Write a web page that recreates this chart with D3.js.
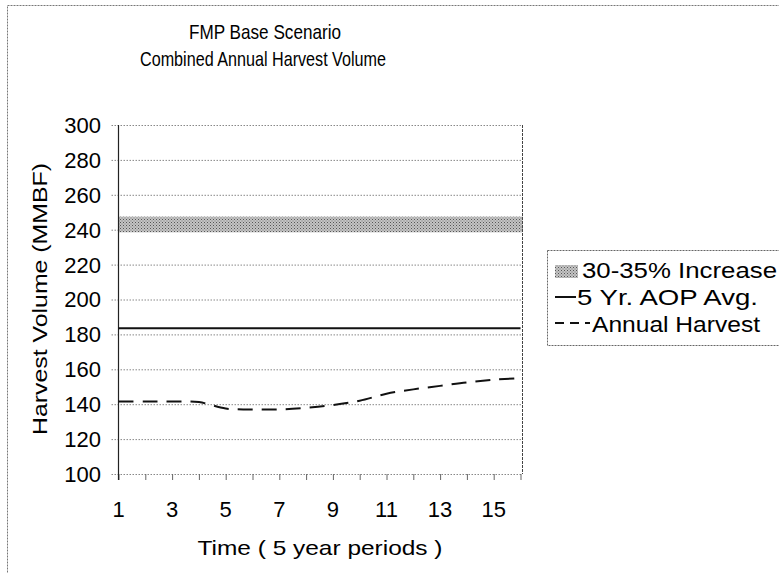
<!DOCTYPE html>
<html><head><meta charset="utf-8">
<script src="https://cdn.jsdelivr.net/npm/d3@7"></script>
<style>
html,body{margin:0;padding:0;background:#fff;}
svg{display:block;font-family:Arial,"Liberation Sans",Helvetica,sans-serif;}
</style></head>
<body><svg id="c" width="779" height="573"></svg>
<script>
// ---- data ----
const periods = [1,2,3,4,5,6,7,8,9,10,11,12,13,14,15,16];
const annualHarvest = [141.5,141.5,141.5,141.2,137.5,137,137,138,139.5,142,146,148.5,150.5,152.5,154,155];
const aopAvg = [183.5,183.5,183.5,183.5,183.5,183.5,183.5,183.5,183.5,183.5,183.5,183.5,183.5,183.5,183.5,183.5];
const increaseLow = 238.5, increaseHigh = 247.5;
const yTicks = [100,120,140,160,180,200,220,240,260,280,300];
const xTickLabels = [1,3,5,7,9,11,13,15];
const legendLabels = ["30-35% Increase","5 Yr. AOP Avg.","Annual Harvest"];
const titleLines = ["FMP Base Scenario","Combined Annual Harvest Volume"];

const svg = d3.select("#c");
const x = d3.scaleLinear().domain([1,16]).range([118.5,520.5]);
const y = d3.scaleLinear().domain([100,300]).range([474,125]);

// pattern for band
const defs = svg.append("defs");
const pat = defs.append("pattern").attr("id","stip").attr("patternUnits","userSpaceOnUse").attr("width",3).attr("height",3);
pat.append("rect").attr("width",3).attr("height",3).attr("fill","#c4c4c4");
pat.append("rect").attr("x",0).attr("y",0).attr("width",1).attr("height",1).attr("fill","#555");
pat.append("rect").attr("x",1.5).attr("y",1.5).attr("width",1).attr("height",1).attr("fill","#777");

// outer frame
svg.append("rect").attr("x",7.5).attr("y",5.5).attr("width",820).attr("height",620)
  .attr("fill","none").attr("stroke","#777").attr("stroke-dasharray","2,1");

// titles
svg.append("text").attr("x",265).attr("y",39).attr("text-anchor","middle").attr("font-size",21)
  .attr("textLength",152).attr("lengthAdjust","spacingAndGlyphs").text(titleLines[0]);
svg.append("text").attr("x",263).attr("y",66).attr("text-anchor","middle").attr("font-size",21)
  .attr("textLength",246).attr("lengthAdjust","spacingAndGlyphs").text(titleLines[1]);

// gridlines + y axis ticks
const yAxis = d3.axisLeft(y).tickValues(yTicks).tickSize(-(x.range()[1]-x.range()[0])-2).tickPadding(0).tickFormat("");
const gy = svg.append("g").attr("transform",`translate(${x.range()[0]},0)`).call(yAxis);
gy.select(".domain").remove();
gy.selectAll(".tick line").attr("stroke","#888").attr("stroke-dasharray","1.5,1.5").attr("x1",-7);
svg.append("g").selectAll("text").data(yTicks).join("text")
  .attr("x",101).attr("y",d=>y(d)).attr("dy","0.36em").attr("text-anchor","end")
  .attr("font-size",22).text(d=>d);

// x axis ticks
const xAxis = d3.axisBottom(x).tickValues(periods).tickSize(6).tickFormat("");
const gx = svg.append("g").attr("transform",`translate(0,${y(100)})`).call(xAxis);
gx.select(".domain").remove();
gx.selectAll(".tick line").attr("stroke","#666");
svg.append("g").selectAll("text").data(xTickLabels).join("text")
  .attr("x",d=>x(d)).attr("y",517).attr("text-anchor","middle").attr("font-size",22).text(d=>d);

// band
svg.append("rect").attr("x",x(1)).attr("y",y(increaseHigh)).attr("width",x(16)-x(1)+2)
  .attr("height",y(increaseLow)-y(increaseHigh)).attr("fill","url(#stip)");

// plot border (right dotted) and left solid axis
svg.append("line").attr("x1",x(16)+2).attr("x2",x(16)+2).attr("y1",y(300)).attr("y2",y(100))
  .attr("stroke","#444").attr("stroke-dasharray","3,1");
svg.append("line").attr("x1",x(1)).attr("x2",x(1)).attr("y1",y(300)).attr("y2",y(100)+6)
  .attr("stroke","#222").attr("stroke-width",1.2);

// AOP line
svg.append("path").datum(periods.map((p,i)=>[p,aopAvg[i]]))
  .attr("d",d3.line().x(d=>x(d[0])).y(d=>y(d[1])))
  .attr("fill","none").attr("stroke","#111").attr("stroke-width",2);

// annual harvest
svg.append("path").datum(periods.map((p,i)=>[p,annualHarvest[i]]))
  .attr("d",d3.line().curve(d3.curveCatmullRom).x(d=>x(d[0])).y(d=>y(d[1])))
  .attr("fill","none").attr("stroke","#111").attr("stroke-width",2).attr("stroke-dasharray","15,9");

// axis titles
svg.append("text").attr("x",320).attr("y",555).attr("text-anchor","middle").attr("font-size",21)
  .attr("textLength",245).attr("lengthAdjust","spacingAndGlyphs").text("Time ( 5 year periods )");
svg.append("text").attr("transform","translate(47,299) rotate(-90)").attr("text-anchor","middle")
  .attr("font-size",21).attr("textLength",272).attr("lengthAdjust","spacingAndGlyphs").text("Harvest Volume (MMBF)");

// legend
const lg = svg.append("g");
lg.append("rect").attr("x",547.5).attr("y",250.5).attr("width",260).attr("height",95)
  .attr("fill","#fff").attr("stroke","#666").attr("stroke-dasharray","2,1");
lg.append("rect").attr("x",555).attr("y",265).attr("width",23).attr("height",13).attr("fill","url(#stip)");
lg.append("line").attr("x1",555).attr("x2",576).attr("y1",297).attr("y2",297).attr("stroke","#111").attr("stroke-width",2);
lg.append("line").attr("x1",555).attr("x2",590).attr("y1",323).attr("y2",323).attr("stroke","#111").attr("stroke-width",2).attr("stroke-dasharray","9,6");
const lx = [582,577,592], lyb = [278,305,332], lw = [195,181,168];
lg.selectAll("text").data(legendLabels).join("text")
  .attr("x",(d,i)=>lx[i]).attr("y",(d,i)=>lyb[i]).attr("font-size",22)
  .attr("textLength",(d,i)=>lw[i]).attr("lengthAdjust","spacingAndGlyphs").text(d=>d);
</script></body></html>
